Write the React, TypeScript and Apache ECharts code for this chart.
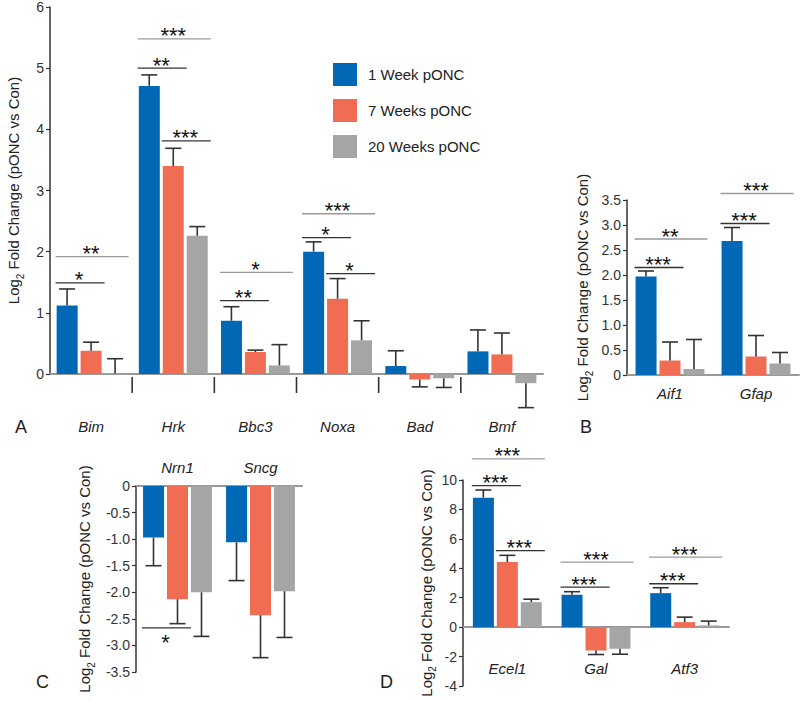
import React, { useEffect, useRef } from "react";
import * as echarts from "echarts";

// ---------- Data ----------
const SERIES_NAMES = ["1 Week pONC", "7 Weeks pONC", "20 Weeks pONC"];
const COLORS = ["#0068b5", "#f06c52", "#a5a5a5"];

// Panel A
const CAT_A = ["Bim", "Hrk", "Bbc3", "Noxa", "Bad", "Bmf"];
const A_1W = [1.12, 4.71, 0.87, 2.0, 0.13, 0.37];
const A_7W = [0.38, 3.4, 0.36, 1.23, -0.09, 0.32];
const A_20W = [0.01, 2.26, 0.14, 0.55, -0.07, -0.15];
const A_1W_ERR = [1.39, 4.89, 1.1, 2.16, 0.38, 0.72];
const A_7W_ERR = [0.52, 3.69, 0.39, 1.56, -0.21, 0.67];
const A_20W_ERR = [0.25, 2.41, 0.48, 0.87, -0.22, -0.55];
const A_TICKS = [0, 1, 2, 3, 4, 5, 6];
const A_SIG = [
  { cat: 0, from: 0, to: 1, y: 1.49, label: "*" },
  { cat: 0, from: 0, to: 2, y: 1.92, label: "**" },
  { cat: 1, from: 0, to: 2, y: 5.48, label: "***" },
  { cat: 1, from: 0, to: 1, y: 5.0, label: "**" },
  { cat: 1, from: 1, to: 2, y: 3.81, label: "***" },
  { cat: 2, from: 0, to: 2, y: 1.66, label: "*" },
  { cat: 2, from: 0, to: 1, y: 1.2, label: "**" },
  { cat: 3, from: 0, to: 2, y: 2.62, label: "***" },
  { cat: 3, from: 0, to: 1, y: 2.23, label: "*" },
  { cat: 3, from: 1, to: 2, y: 1.64, label: "*" },
];

// Panel B
const CAT_B = ["Aif1", "Gfap"];
const B_1W = [1.97, 2.68];
const B_7W = [0.29, 0.37];
const B_20W = [0.12, 0.23];
const B_1W_ERR = [2.08, 2.95];
const B_7W_ERR = [0.66, 0.79];
const B_20W_ERR = [0.71, 0.45];
const B_SIG = [
  { cat: 0, from: 0, to: 1, y: 2.15, label: "***" },
  { cat: 0, from: 0, to: 2, y: 2.72, label: "**" },
  { cat: 1, from: 0, to: 1, y: 3.03, label: "***" },
  { cat: 1, from: 0, to: 2, y: 3.63, label: "***" },
];

// Panel C
const CAT_C = ["Nrn1", "Sncg"];
const C_1W = [-0.97, -1.06];
const C_7W = [-2.13, -2.43];
const C_20W = [-2.0, -1.98];
const C_1W_ERR = [-1.5, -1.78];
const C_7W_ERR = [-2.59, -3.23];
const C_20W_ERR = [-2.83, -2.85];
const C_SIG = [{ cat: 0, from: 0, to: 1, y: -2.67, label: "*", below: true }];

// Panel D
const CAT_D = ["Ecel1", "Gal", "Atf3"];
const D_1W = [8.8, 2.2, 2.31];
const D_7W = [4.42, -1.59, 0.34];
const D_20W = [1.7, -1.47, 0.12];
const D_1W_ERR = [9.32, 2.41, 2.68];
const D_7W_ERR = [4.88, -1.86, 0.68];
const D_20W_ERR = [1.9, -1.84, 0.41];
const D_SIG = [
  { cat: 0, from: 0, to: 2, y: 11.43, label: "***" },
  { cat: 0, from: 0, to: 1, y: 9.62, label: "***" },
  { cat: 0, from: 1, to: 2, y: 5.2, label: "***" },
  { cat: 1, from: 0, to: 2, y: 4.42, label: "***" },
  { cat: 1, from: 0, to: 1, y: 2.72, label: "***" },
  { cat: 2, from: 0, to: 2, y: 4.76, label: "***" },
  { cat: 2, from: 0, to: 1, y: 2.95, label: "***" },
];

// ---------- Style constants ----------
const FONT = "Arial, 'Liberation Sans', Helvetica, sans-serif";
const BAR_W = 21;
const STEP = 24;
const INK = "#333";

const Y_NAME = "{a|Log}{sub|2}{a| Fold Change (pONC vs Con)}";

function errRender(params: any, api: any) {
  const cat = api.value(0);
  const g = api.value(1);
  const v = api.value(2);
  const e = api.value(3);
  const c = api.coord([cat, v]);
  const ce = api.coord([cat, e]);
  const x = c[0] + (g - 1) * STEP;
  return {
    type: "group",
    children: [
      { type: "line", shape: { x1: x, y1: c[1], x2: x, y2: ce[1] }, style: { stroke: INK, lineWidth: 1.6 } },
      { type: "line", shape: { x1: x - 8, y1: ce[1], x2: x + 8, y2: ce[1] }, style: { stroke: INK, lineWidth: 1.6 } },
    ],
  };
}

function makeSigRender(list: any[]) {
  return (params: any, api: any) => {
    const b = list[params.dataIndex];
    const cat = api.value(0);
    const from = api.value(1);
    const to = api.value(2);
    const y = api.value(3);
    const c = api.coord([cat, y]);
    const x1 = c[0] + (from - 1) * STEP - BAR_W / 2 - 1;
    const x2 = c[0] + (to - 1) * STEP + BAR_W / 2 + 3;
    const col = to - from === 2 ? "#9a9a9a" : "#333";
    return {
      type: "group",
      children: [
        { type: "line", shape: { x1, y1: c[1], x2, y2: c[1] }, style: { stroke: col, lineWidth: 1.3 } },
        {
          type: "text",
          style: {
            text: b.label,
            x: (x1 + x2) / 2 - 1,
            y: b.below ? c[1] + 15 : c[1] - 3,
            align: "center",
            verticalAlign: "middle",
            fontSize: 22,
            fontFamily: FONT,
            fill: "#111",
          },
        },
      ],
    };
  };
}

function sepRender(params: any, api: any) {
  const cat = api.value(0);
  const c = api.coord([cat, 0]);
  const bw = api.size([1, 0])[0];
  const x = c[0] - bw / 2;
  return {
    type: "line",
    shape: { x1: x, y1: c[1] + 3, x2: x, y2: c[1] + 19 },
    style: { stroke: INK, lineWidth: 1.6 },
  };
}

function yAxisCfg(idx: number, min: number, max: number, interval: number, gap: number, fmt?: (v: number) => string) {
  return {
    gridIndex: idx,
    type: "value",
    min,
    max,
    interval,
    name: Y_NAME,
    nameLocation: "middle",
    nameRotate: 90,
    nameGap: gap,
    nameTextStyle: {
      fontSize: 15,
      color: "#222",
      fontFamily: FONT,
      rich: {
        a: { fontSize: 15, fontFamily: FONT, color: "#222", verticalAlign: "bottom" },
        sub: { fontSize: 10, fontFamily: FONT, color: "#222", verticalAlign: "bottom", padding: [0, 0, -4, 0] },
      },
    },
    axisLine: { show: true, onZero: false, lineStyle: { color: INK, width: 1.5 } },
    axisTick: { show: true, length: 4, lineStyle: { color: INK, width: 1.2 } },
    splitLine: { show: false },
    axisLabel: { fontSize: 14, color: "#333", fontFamily: FONT, margin: 6, formatter: fmt },
  };
}

function xAxisCfg(idx: number, cats: string[], margin: number, position = "bottom") {
  return {
    gridIndex: idx,
    type: "category",
    data: cats,
    position,
    axisLine: { show: true, onZero: true, lineStyle: { color: "#999", width: 2 } },
    axisTick: { show: false },
    axisLabel: { fontSize: 15, fontStyle: "italic", color: "#222", fontFamily: FONT, margin, interval: 0 },
    splitLine: { show: false },
  };
}

function panelSeries(idx: number, vals: number[][], errs: number[][], sig: any[], prefix: string) {
  const out: any[] = [];
  vals.forEach((arr, g) => {
    out.push({
      type: "bar",
      name: SERIES_NAMES[g],
      xAxisIndex: idx,
      yAxisIndex: idx,
      data: arr,
      barWidth: BAR_W,
      barGap: "14%",
      itemStyle: { color: COLORS[g] },
      clip: false,
      z: 2,
    });
  });
  const errData: number[][] = [];
  vals.forEach((arr, g) => arr.forEach((v, i) => errData.push([i, g, v, errs[g][i]])));
  out.push({
    type: "custom",
    name: prefix + "-err",
    xAxisIndex: idx,
    yAxisIndex: idx,
    renderItem: errRender,
    data: errData,
    z: 3,
    clip: false,
  });
  out.push({
    type: "custom",
    name: prefix + "-sig",
    xAxisIndex: idx,
    yAxisIndex: idx,
    renderItem: makeSigRender(sig),
    data: sig.map((b) => [b.cat, b.from, b.to, b.y]),
    z: 4,
    clip: false,
  });
  return out;
}

export default function App() {
  const ref = useRef<HTMLDivElement>(null);
  useEffect(() => {
    if (!ref.current) return;
    const chart = echarts.init(ref.current, undefined, { renderer: "svg" });
    const dec = (v: number) => (v === 0 ? "0" : v.toFixed(1));
    const option: any = {
      animation: false,
      backgroundColor: "#fff",
      textStyle: { fontFamily: FONT },
      legend: {
        data: SERIES_NAMES,
        orient: "vertical",
        left: 333,
        top: 63,
        itemWidth: 24,
        itemHeight: 23,
        itemGap: 13,
        icon: "rect",
        selectedMode: false,
        padding: 0,
        textStyle: { fontSize: 15, color: "#222", fontFamily: FONT, padding: [0, 0, 0, 6] },
      },
      grid: [
        { left: 50, top: 7, width: 493, height: 367, outerBoundsMode: "none", containLabel: false },
        { left: 627, top: 200, width: 172, height: 175, outerBoundsMode: "none", containLabel: false },
        { left: 136, top: 486, width: 166, height: 186, outerBoundsMode: "none", containLabel: false },
        { left: 463, top: 480, width: 266, height: 206, outerBoundsMode: "none", containLabel: false },
      ],
      xAxis: [
        xAxisCfg(0, CAT_A, 45),
        xAxisCfg(1, CAT_B, 11),
        xAxisCfg(2, CAT_C, 11, "top"),
        xAxisCfg(3, CAT_D, -25),
      ],
      yAxis: [
        yAxisCfg(0, A_TICKS[0], A_TICKS[A_TICKS.length - 1], 1, 26),
        yAxisCfg(1, 0, 3.5, 0.5, 37, dec),
        yAxisCfg(2, -3.5, 0, 0.5, 44, dec),
        yAxisCfg(3, -4, 10, 2, 24),
      ],
      graphic: [
        { type: "text", left: 15, top: 418, style: { text: "A", fontSize: 18, fill: "#222", fontFamily: FONT } },
        { type: "text", left: 580, top: 418, style: { text: "B", fontSize: 18, fill: "#222", fontFamily: FONT } },
        { type: "text", left: 36, top: 673, style: { text: "C", fontSize: 18, fill: "#222", fontFamily: FONT } },
        { type: "text", left: 380, top: 673, style: { text: "D", fontSize: 18, fill: "#222", fontFamily: FONT } },
      ],
      series: [
        ...panelSeries(0, [A_1W, A_7W, A_20W], [A_1W_ERR, A_7W_ERR, A_20W_ERR], A_SIG, "A"),
        ...panelSeries(1, [B_1W, B_7W, B_20W], [B_1W_ERR, B_7W_ERR, B_20W_ERR], B_SIG, "B"),
        ...panelSeries(2, [C_1W, C_7W, C_20W], [C_1W_ERR, C_7W_ERR, C_20W_ERR], C_SIG, "C"),
        ...panelSeries(3, [D_1W, D_7W, D_20W], [D_1W_ERR, D_7W_ERR, D_20W_ERR], D_SIG, "D"),
        {
          type: "custom",
          name: "A-sep",
          xAxisIndex: 0,
          yAxisIndex: 0,
          renderItem: sepRender,
          data: CAT_A.slice(1).map((_, i) => [i + 1]),
          clip: false,
          z: 3,
        },
      ],
    };
    chart.setOption(option);
    return () => chart.dispose();
  }, []);
  return (
    <div
      ref={ref}
      style={{ position: "absolute", left: 0, top: 0, width: 800, height: 701, background: "#fff" }}
    />
  );
}
